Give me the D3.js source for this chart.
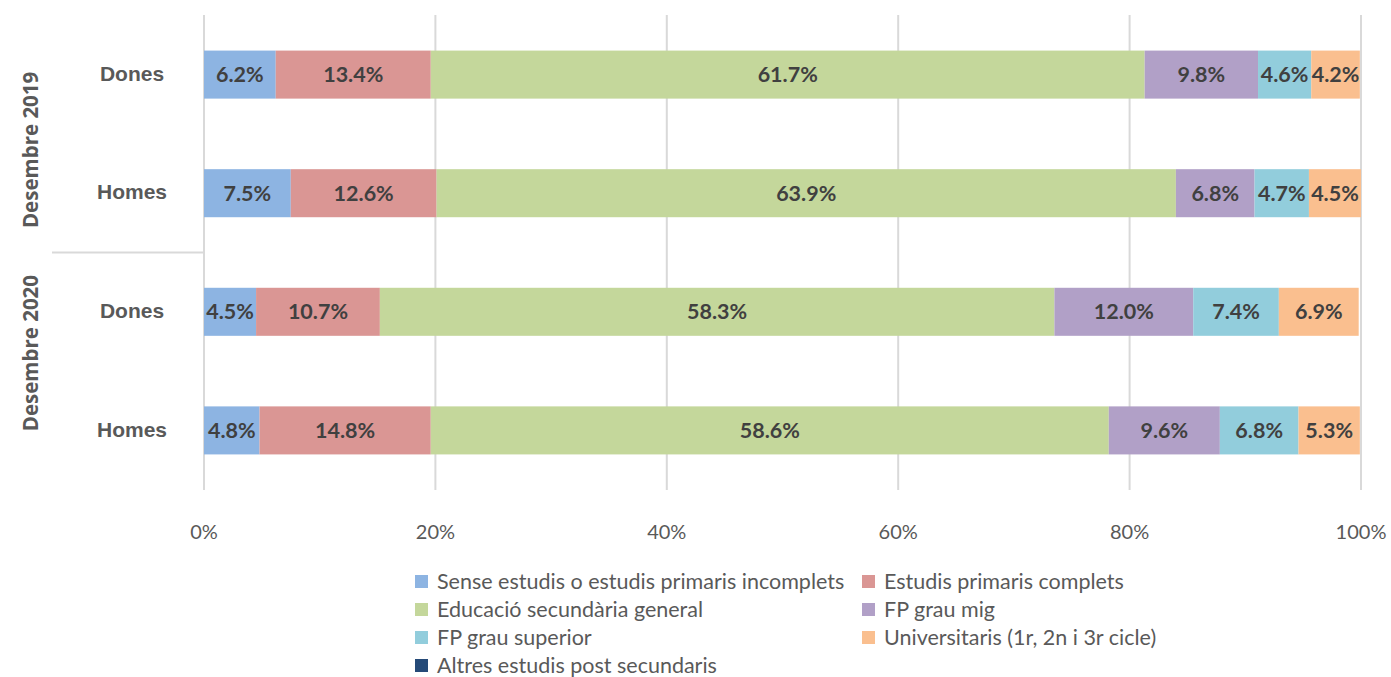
<!DOCTYPE html>
<html>
<head>
<meta charset="utf-8">
<script src="https://cdn.jsdelivr.net/npm/d3@7"></script>
<style>
  body { margin: 0; background: #fff; }
  svg { display: block; }
</style>
</head>
<body>
<svg id="chart" width="1391" height="677"></svg>
<script>
// data
var groups = ["Desembre 2019", "Desembre 2020"];
var rows = ["Dones", "Homes", "Dones", "Homes"];
var rowGroup = [0, 0, 1, 1];
var seriesNames = [
  "Sense estudis o estudis primaris incomplets",
  "Estudis primaris complets",
  "Educació secundària general",
  "FP grau mig",
  "FP grau superior",
  "Universitaris (1r, 2n i 3r cicle)",
  "Altres estudis post secundaris"
];
var seriesColors = ["#8db4e2", "#da9694", "#c4d79b", "#b1a0c7", "#92cddc", "#fabf8f", "#254a78"];
// one array per series, in the row order above
var sense    = [6.2, 7.5, 4.5, 4.8];
var primaris = [13.4, 12.6, 10.7, 14.8];
var secund   = [61.7, 63.9, 58.3, 58.6];
var fpMig    = [9.8, 6.8, 12.0, 9.6];
var fpSup    = [4.6, 4.7, 7.4, 6.8];
var univ     = [4.2, 4.5, 6.9, 5.3];
var altres   = [0, 0, 0, 0];
var tickValues = [0, 20, 40, 60, 80, 100];

var allSeries = [sense, primaris, secund, fpMig, fpSup, univ, altres];

var svg = d3.select("#chart");
var margin = { top: 15, left: 204, right: 30 };
var width = 1361 - margin.left,
    height = 490 - margin.top;

var table = rows.map(function (r, i) {
  var o = { id: i, row: r };
  allSeries.forEach(function (s, k) { o["s" + k] = s[i]; });
  return o;
});
var keys = allSeries.map(function (s, k) { return "s" + k; });
var stacked = d3.stack().keys(keys)(table);

var x = d3.scaleLinear().domain([0, 100]).range([margin.left, margin.left + width]);
var y = d3.scaleBand().domain(d3.range(rows.length)).range([margin.top, margin.top + height]).paddingInner(0.595).paddingOuter(0.3);

// gridlines
svg.append("g")
  .selectAll("line")
  .data(tickValues)
  .enter().append("line")
  .attr("x1", function (d) { return x(d); })
  .attr("x2", function (d) { return x(d); })
  .attr("y1", margin.top)
  .attr("y2", margin.top + height)
  .attr("stroke", "#d9d9d9")
  .attr("stroke-width", 2);

// bars
var layer = svg.append("g").selectAll("g")
  .data(stacked)
  .enter().append("g")
  .attr("fill", function (d, k) { return seriesColors[k]; });

layer.selectAll("rect")
  .data(function (d) { return d; })
  .enter().append("rect")
  .attr("x", function (d) { return x(d[0]); })
  .attr("width", function (d) { return x(d[1]) - x(d[0]); })
  .attr("y", function (d) { return y(d.data.id); })
  .attr("height", y.bandwidth());

// value labels
layer.selectAll("text")
  .data(function (d) { return d.filter(function (p) { return p[1] - p[0] >= 1; }); })
  .enter().append("text")
  .attr("x", function (d) { return (x(d[0]) + x(d[1])) / 2; })
  .attr("y", function (d) { return y(d.data.id) + y.bandwidth() / 2; })
  .attr("dy", "0.35em")
  .attr("text-anchor", "middle")
  .attr("fill", "#404040")
  .style("font-family", "Lato, 'Open Sans', sans-serif")
  .style("font-weight", "bold")
  .style("font-size", "21.5px")
  .text(function (d) { return (d[1] - d[0]).toFixed(1) + "%"; });

// x axis tick labels
svg.append("g")
  .selectAll("text")
  .data(tickValues)
  .enter().append("text")
  .attr("x", function (d) { return x(d); })
  .attr("y", 539)
  .attr("text-anchor", "middle")
  .attr("fill", "#595959")
  .style("font-family", "Lato, sans-serif")
  .style("font-size", "20px")
  .text(function (d) { return d + "%"; });

// row labels
svg.append("g")
  .selectAll("text")
  .data(rows)
  .enter().append("text")
  .attr("x", 132)
  .attr("y", function (d, i) { return y(i) + y.bandwidth() / 2; })
  .attr("dy", "0.3em")
  .attr("text-anchor", "middle")
  .attr("fill", "#595959")
  .style("font-family", "'Liberation Sans', Arial, sans-serif")
  .style("font-weight", "bold")
  .style("font-size", "21px")
  .text(function (d) { return d; });

// group separator line
var sepY = (y(1) + y.bandwidth() + y(2)) / 2;
svg.append("line")
  .attr("x1", 52).attr("x2", margin.left)
  .attr("y1", sepY).attr("y2", sepY)
  .attr("stroke", "#d9d9d9").attr("stroke-width", 2);

// group labels (rotated), nudged like the original
var groupNudge = [16, -18];
groups.forEach(function (g, gi) {
  var idx = d3.range(rows.length).filter(function (i) { return rowGroup[i] === gi; });
  var cy = (y(idx[0]) + y(idx[idx.length - 1]) + y.bandwidth()) / 2 + groupNudge[gi];
  svg.append("text")
    .attr("transform", "translate(31," + cy + ") rotate(-90)")
    .attr("dy", "0.35em")
    .attr("text-anchor", "middle")
    .attr("fill", "#595959")
    .style("font-family", "'Open Sans', sans-serif")
    .style("font-weight", "bold")
    .style("font-size", "20.5px")
    .text(g);
});

// legend
var legend = svg.append("g").selectAll("g")
  .data(seriesNames)
  .enter().append("g")
  .attr("transform", function (d, i) {
    return "translate(" + (i % 2 === 0 ? 415 : 862) + "," + (581 + Math.floor(i / 2) * 28) + ")";
  });
legend.append("rect")
  .attr("x", 0).attr("y", -6)
  .attr("width", 13).attr("height", 13)
  .attr("fill", function (d, i) { return seriesColors[i]; });
legend.append("text")
  .attr("x", 22)
  .attr("dy", "0.35em")
  .attr("fill", "#595959")
  .style("font-family", "Lato, sans-serif")
  .style("font-size", "21.5px")
  .text(function (d) { return d; });
</script>
</body>
</html>
